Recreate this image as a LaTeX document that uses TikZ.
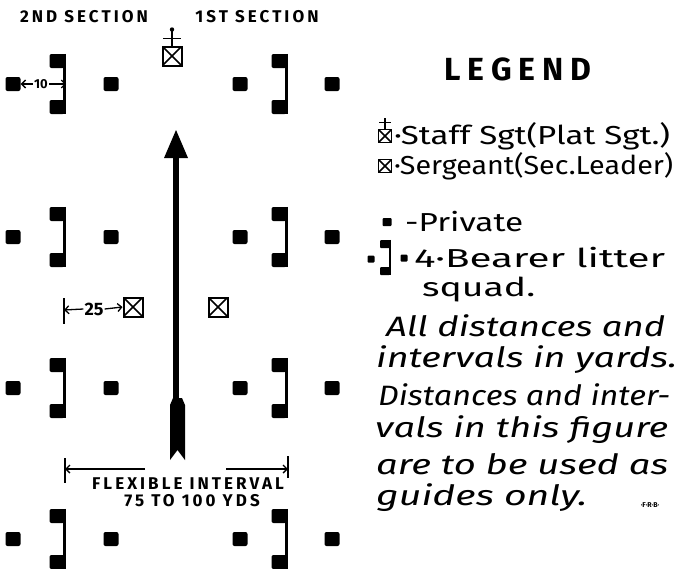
\documentclass[tikz,border=0pt]{standalone}
\usepackage{fontspec}
\usepackage{graphicx}
\setmainfont{Fira Sans}
\usetikzlibrary{arrows.meta}

% stretch a line of lettering to a given width, height unchanged
\newcommand{\lettered}[2]{\resizebox{#1}{\height}{#2}}

\tikzset{
  private/.style={fill=black, minimum width=15pt, minimum height=14pt, inner sep=0pt, rounded corners=2pt},
  smallprivate/.style={private, minimum width=9pt, minimum height=8pt, rounded corners=1pt},
  sergeant/.style={draw=black, line width=2pt, minimum size=19pt, inner sep=0pt,
    path picture={\draw[line width=1.6pt] (path picture bounding box.north west) -- (path picture bounding box.south east)
      (path picture bounding box.north east) -- (path picture bounding box.south west);}},
  smallsergeant/.style={sergeant, line width=1.4pt, minimum size=13pt},
  litter/.style={line width=3pt},
  section/.style={inner sep=0pt, font=\bfseries\fontsize{17}{19}\selectfont\addfontfeature{LetterSpace=18}},
  dim/.style={inner sep=1pt, font=\bfseries\fontsize{13}{15}\selectfont},
  dimarrow/.style={->, line width=1.3pt},
  legendtext/.style={anchor=west, inner sep=0pt, font=\fontsize{26}{29}\selectfont},
  note/.style={anchor=west, inner sep=0pt, font=\itshape\fontsize{28}{32}\selectfont},
}

\begin{document}
\begin{tikzpicture}[x=1pt, y=-1pt, >={Straight Barb[length=4pt, width=8pt]}]
  \useasboundingbox (0,0) rectangle (680,568);

  % 1. Section headings
  \node[section] (sec2) at (84,17) {2ND SECTION};
  \node[section] (sec1) at (257,17) {1ST SECTION};

  % 2. Four rows of litter squads (privates and bearer pairs)
  \foreach \r/\y in {1/84, 2/237, 3/388, 4/539} {
    % 2nd section
    \node[private] (pa\r) at (13,\y) {};
    \node[private] (ta\r) at (57,\y-23) {};
    \node[private] (ba\r) at (57,\y+23) {};
    \draw[litter] (ta\r.north east) -- (ba\r.south east);
    \node[private] (pb\r) at (111,\y) {};
    % 1st section
    \node[private] (pc\r) at (240,\y) {};
    \node[private] (tc\r) at (279,\y-23) {};
    \node[private] (bc\r) at (279,\y+23) {};
    \draw[litter] (tc\r.north east) -- (bc\r.south east);
    \node[private] (pd\r) at (332,\y) {};
  }

  % 3. Staff sergeant at the head
  \node[sergeant] (ssgt) at (172,56) {};
  \draw[line width=1.6pt] (ssgt.north) -- ++(0,-15);
  \draw[line width=1.6pt] ([shift={(-9,-7)}]ssgt.north) -- ([shift={(9,-7)}]ssgt.north);
  \fill ([shift={(0,-16)}]ssgt.north) circle (2.2pt);

  % 4. Section leaders
  \node[sergeant] (sgtl) at (133,307) {};
  \node[sergeant] (sgtr) at (218,307) {};

  % 5. Direction of advance
  \coordinate (tip) at (176,130);
  \coordinate (tail) at (176,400);
  \fill (tip) -- ++(-12,28) -- ++(24,0) -- cycle;
  \draw[line width=5.5pt] ([yshift=-26pt]tip) -- (tail);
  \fill (170,405) -- (173,398) -- (182,398) -- (185,405) -- (185,460) -- (177.5,450) -- (170,460) -- cycle;

  % 6. Distances
  \node[dim] (d10) at (41,84) {10};
  \draw[dimarrow] (d10.west) -- (pa1.east);
  \draw[dimarrow] (d10.east) -- ([xshift=1.5pt]ta1.east |- d10);

  \coordinate (t25) at (64,310);
  \draw[line width=1.4pt] ([yshift=12pt]t25) -- ([yshift=-14pt]t25);
  \node[dim, font=\bfseries\fontsize{18}{20}\selectfont] (d25) at (94,309) {25};
  \draw[dimarrow] (d25.west) -- (t25);
  \draw[dimarrow] (d25.east) -- (sgtl.west);

  % 7. Flexible interval
  \coordinate (fl) at (65,469);
  \coordinate (fr) at (288,469);
  \draw[line width=1.4pt] ([yshift=11pt]fl) -- ([yshift=-14pt]fl);
  \draw[line width=1.4pt] ([yshift=13pt]fr) -- ([yshift=-9pt]fr);
  \draw[->, line width=1.4pt] ([xshift=80pt]fl) -- (fl);
  \draw[->, line width=1.4pt] ([xshift=-62pt]fr) -- (fr);
  \node[section] (flex) at (188,484) {FLEXIBLE INTERVAL};
  \node[section] (yds) at (192,501) {75 TO 100 YDS};

  % 8. Legend
  \node[font=\bfseries\fontsize{32}{35}\selectfont\addfontfeature{LetterSpace=22}, inner sep=0pt] (legend) at (518,69) {LEGEND};

  \node[smallsergeant] (lgss) at (385,136) {};
  \draw[line width=1.2pt] (lgss.north) -- ++(0,-11);
  \draw[line width=1.2pt] ([shift={(-6,-6)}]lgss.north) -- ([shift={(6,-6)}]lgss.north);
  \node[legendtext] (lgsst) at (394,136) {\lettered{276pt}{·Staff Sgt(Plat Sgt.)}};

  \node[smallsergeant] (lgsg) at (385,166) {};
  \node[legendtext] (lgsgt) at (394,166) {\lettered{279pt}{·Sergeant(Sec.Leader)}};

  \node[smallprivate] (lgpr) at (387,222) {};
  \node[legendtext] (lgprt) at (405,222) {\lettered{118pt}{-Private}};

  \node[smallprivate, minimum width=7pt, minimum height=7pt] (lgla) at (371,259) {};
  \node[smallprivate, minimum width=10pt] (lglt) at (385,244) {};
  \node[smallprivate, minimum width=10pt] (lglb) at (385,271) {};
  \draw[line width=2.2pt] (lglt.north east) -- (lglb.south east);
  \node[smallprivate, minimum width=7pt, minimum height=7pt] (lglc) at (404,258) {};
  \node[legendtext] (lglt1) at (414,258) {\lettered{251pt}{4·Bearer litter}};
  \node[legendtext] (lglt2) at (422,290) {\lettered{113pt}{squad.}};

  % 9. Notes
  \node[note] (n1) at (386,326) {\lettered{279pt}{All distances and}};
  \node[note] (n2) at (376,360) {\lettered{301pt}{intervals in yards.}};
  \node[note] (n3) at (378,395) {\lettered{292pt}{Distances and inter-}};
  \node[note] (n4) at (375,430) {\lettered{293pt}{vals in this figure}};
  \node[note] (n5) at (376,464) {\lettered{292pt}{are to be used as}};
  \node[note] (n6) at (376,498) {\lettered{211pt}{guides only.}};
  \node[inner sep=0pt, font=\bfseries\fontsize{7}{8}\selectfont] (frb) at (650,505) {·F·R·B·};

\end{tikzpicture}
\end{document}
